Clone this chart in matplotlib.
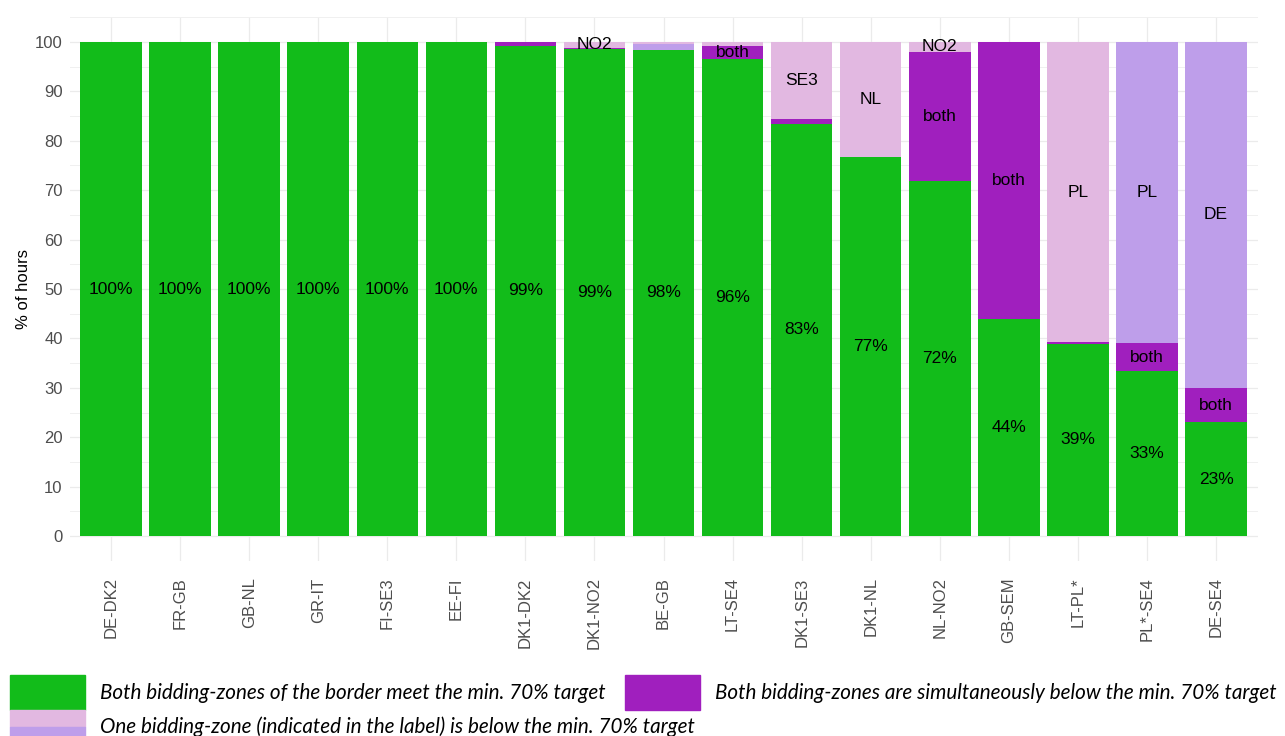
import matplotlib
matplotlib.use("Agg")
import matplotlib.pyplot as plt
import numpy as np

plt.rcParams["font.family"] = ["Liberation Sans", "DejaVu Sans"]

# ---- data ----
borders = ["DE-DK2", "FR-GB", "GB-NL", "GR-IT", "FI-SE3", "EE-FI", "DK1-DK2", "DK1-NO2",
           "BE-GB", "LT-SE4", "DK1-SE3", "DK1-NL", "NL-NO2", "GB-SEM", "LT-PL*", "PL*-SE4", "DE-SE4"]
both_meet = [100, 100, 100, 100, 100, 100, 99.2, 98.5, 98.4, 96.5, 83.5, 76.8, 71.8, 43.9, 38.9, 33.4, 23.0]
both_below = [0, 0, 0, 0, 0, 0, 0.8, 0.3, 0.0, 2.6, 0.9, 0.0, 26.2, 56.1, 0.3, 5.6, 7.0]
first_below = [0, 0, 0, 0, 0, 0, 0, 0, 1.1, 0, 0, 0, 0, 0, 0, 61.0, 70.0]
second_below = [0, 0, 0, 0, 0, 0, 0, 1.2, 0.5, 0.9, 15.6, 23.2, 2.0, 0, 60.8, 0, 0]
meet_labels = ["100%", "100%", "100%", "100%", "100%", "100%", "99%", "99%", "98%", "96%",
               "83%", "77%", "72%", "44%", "39%", "33%", "23%"]
both_labels = ["", "", "", "", "", "", "", "", "", "both", "", "", "both", "both", "", "both", "both"]
first_labels = ["", "", "", "", "", "", "", "", "", "", "", "", "", "", "", "PL", "DE"]
second_labels = ["", "", "", "", "", "", "", "NO2", "", "", "SE3", "NL", "NO2", "", "PL", "", ""]

GREEN = "#12BC1A"
PURPLE = "#A01FBE"
PINK = "#E2B8E1"
LAVENDER = "#BE9EEA"

W, H = 1285, 736
fig = plt.figure(figsize=(W / 100, H / 100), dpi=100)
ax = fig.add_axes([69.6 / W, 1 - 560.7 / H, (1257.5 - 69.6) / W, (560.7 - 17.3) / H])

x = np.arange(len(borders))
bw = 0.89
meet = np.array(both_meet)
bb = np.array(both_below)
fb = np.array(first_below)
sb = np.array(second_below)

ax.bar(x, meet, width=bw, color=GREEN, zorder=2)
ax.bar(x, bb, width=bw, bottom=meet, color=PURPLE, zorder=2)
ax.bar(x, fb, width=bw, bottom=meet + bb, color=LAVENDER, zorder=2)
ax.bar(x, sb, width=bw, bottom=meet + bb + fb, color=PINK, zorder=2)

fs = 12.5
for i in range(len(borders)):
    ax.text(x[i], meet[i] / 2, meet_labels[i], ha="center", va="center", fontsize=fs, zorder=3)
    if both_labels[i]:
        ax.text(x[i], meet[i] + bb[i] / 2, both_labels[i], ha="center", va="center",
                fontsize=fs, zorder=3)
    if first_labels[i]:
        ax.text(x[i], meet[i] + bb[i] + fb[i] / 2, first_labels[i], ha="center", va="center",
                fontsize=fs, zorder=3)
    if second_labels[i]:
        ax.text(x[i], meet[i] + bb[i] + fb[i] + sb[i] / 2, second_labels[i], ha="center",
                va="center", fontsize=fs, zorder=3)

ax.set_xlim(-0.6, len(borders) - 0.4)
ax.set_ylim(-5, 105)
ax.set_yticks(np.arange(0, 101, 10))
ax.set_yticks(np.arange(-5, 106, 10), minor=True)
ax.set_xticks(x)
ax.set_xticklabels(borders, rotation=90, fontsize=12, color="#4D4D4D")
for lab in ax.get_yticklabels():
    lab.set_fontsize(12)
    lab.set_color("#4D4D4D")
ax.tick_params(axis="both", which="both", length=0)
ax.tick_params(axis="y", pad=5)
ax.tick_params(axis="x", pad=12)
ax.grid(True, which="major", axis="both", color="#EBEBEB", linewidth=0.9, zorder=0)
ax.grid(True, which="minor", axis="y", color="#F0F0F0", linewidth=0.7, zorder=0)
ax.set_axisbelow(True)
for s in ax.spines.values():
    s.set_visible(False)
ax.set_ylabel("% of hours", fontsize=12, labelpad=3)

# ---- legend ----
def rect(x0, y0, x1, y1, color):
    fig.patches.append(plt.Rectangle((x0 / W, 1 - y1 / H), (x1 - x0) / W, (y1 - y0) / H,
                                     transform=fig.transFigure, color=color, figure=fig))

rect(10, 675, 85, 710, GREEN)
rect(625, 675, 700, 710, PURPLE)
rect(10, 710, 85, 727, PINK)
rect(10, 727, 85, 745, LAVENDER)
lfont = dict(family="Lato", style="italic", fontsize=14.9, va="center", ha="left")
fig.text(100 / W, 1 - 693 / H, "Both bidding-zones of the border meet the min. 70% target", **lfont)
fig.text(715 / W, 1 - 693 / H, "Both bidding-zones are simultaneously below the min. 70% target", **lfont)
fig.text(100 / W, 1 - 727 / H, "One bidding-zone (indicated in the label) is below the min. 70% target", **lfont)

fig.savefig("out.png", dpi=100)
